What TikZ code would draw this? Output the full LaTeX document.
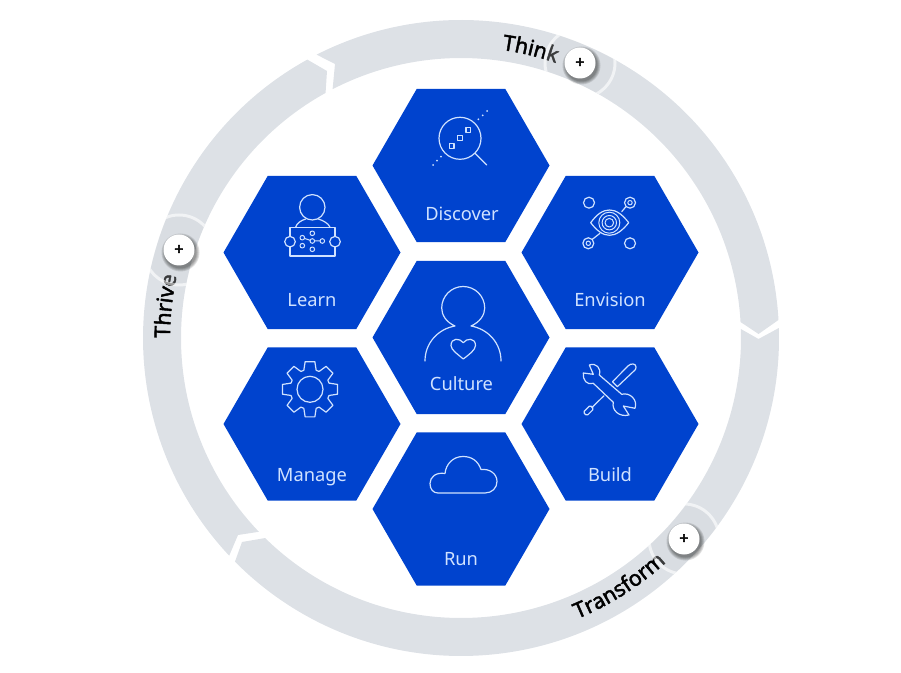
\documentclass[tikz,border=0pt]{standalone}
\usepackage{fontspec}
\setmainfont{Noto Sans}
\newfontfamily\medfont{Noto Sans}[FakeBold=2]
\newfontfamily\plusfont{Noto Sans}[FakeBold=3]
\usetikzlibrary{shapes.geometric,decorations.text}
\definecolor{ringgray}{HTML}{DDE1E6}
\definecolor{pulsegray}{HTML}{D2D6DB}
\definecolor{hexblue}{HTML}{0043CE}
\definecolor{pale}{HTML}{D0E2FF}
\newcommand{\clab}{\fontsize{21.5}{24}\selectfont\medfont\color{black}}
\tikzset{
  ringblock/.style={fill=ringgray,draw=none},
  hexcell/.style={regular polygon,regular polygon sides=6,minimum size=177pt,inner sep=0pt,outer sep=0pt,fill=hexblue,draw=none},
  hexlabel/.style={text=pale,font=\fontsize{18.3}{20}\selectfont,inner sep=0pt,anchor=base},
  icon/.style={draw=pale,line width=1.2pt,line join=round,line cap=round},
  dotmark/.style={fill=pale,draw=none},
  btn/.style={circle,fill=white,draw=none,minimum size=31pt,inner sep=0pt,font=\fontsize{16}{16}\selectfont\plusfont,text=black},
  curvetext/.style={decorate,decoration={text along path,text align={left},#1}},
  pulseline/.style={draw=white,line width=3pt,opacity=.6},
  pulsefill/.style={fill=pulsegray,opacity=.28}
}
\begin{document}
\begin{tikzpicture}[x=1pt,y=1pt]
\useasboundingbox (0,0) rectangle (901,672);
\begin{scope}[shift={(0,672)},yscale=-1]
  % ring
  \begin{scope}[shift={(461,338)}]
    \fill[ringblock] (-117:318pt) arc (-117:-3.25:318pt) -- (297.5,-4) -- (-3.27:280pt) arc (-3.27:-117.3:280pt) -- (-126,-274) -- cycle;
    \fill[ringblock] (-1.8:318pt) arc (-1.8:135.3:318pt) -- (-219,204) -- (134.4:280pt) arc (134.4:-1.84:280pt) -- (297.5,1) -- cycle;
    \fill[ringblock] (136.8:318pt) arc (136.8:241.1:318pt) -- (-134,-267) -- (241.07:280pt) arc (241.07:136.2:280pt) -- (-223,197) -- cycle;
  \end{scope}
  % hexagons
  \node[hexcell] (discover) at (461,165.5) {};
  \node[hexcell] (learn) at (312,252.5) {};
  \node[hexcell] (envision) at (610,252.5) {};
  \node[hexcell] (culture) at (461,337.5) {};
  \node[hexcell] (manage) at (312,424) {};
  \node[hexcell] (build) at (610,424) {};
  \node[hexcell] (run) at (461,509) {};
  % labels
  \node[hexlabel] (tdiscover) at (462,220.3) {Discover};
  \node[hexlabel] (tlearn) at (312,306.3) {Learn};
  \node[hexlabel] (tenvision) at (610,306.3) {Envision};
  \node[hexlabel] (tculture) at (461.5,390.3) {Culture};
  \node[hexlabel] (tmanage) at (312,482) {Manage};
  \node[hexlabel] (tbuild) at (610,481.5) {Build};
  \node[hexlabel] (trun) at (461,565) {Run};
  % Discover icon
  \draw[icon] (460,138.3) circle (21pt);
  \draw[icon] (475,153.3) -- (486.7,165);
  \foreach \px/\py in {451.7/146,460/138,468.3/130}
    \draw[icon] (\px-2.3,\py-2.3) rectangle (\px+2.3,\py+2.3);
  \foreach \px/\py in {478.3/119.3,482.7/115.3,487/111,441/156.7,437/160.7,433/165}
    \fill[dotmark] (\px,\py) circle (1pt);
  % Learn icon
  \draw[icon] (312.3,207.3) circle (12.7pt);
  \draw[icon] (295.7,227) .. controls (297,223) and (301,220.5) .. (305.7,219);
  \draw[icon] (318.3,219) .. controls (323,220.5) and (328,223) .. (330,227);
  \draw[icon] (290,227.3) rectangle (335,256);
  \draw[icon,fill=hexblue] (290,241.7) circle (5.3pt);
  \draw[icon,fill=hexblue] (335,241.7) circle (5.3pt);
  \draw[icon,line width=1pt] (302.3,237.7) -- (312.3,241) -- (322.3,241);
  \foreach \px/\py in {302.3/237.7,302.3/245.7,312.3/233.3,312.3/249.3,322.3/241,312.3/241}
    \draw[icon,line width=1pt,fill=hexblue] (\px,\py) circle (2.3pt);
  % Envision icon
  \draw[icon] (589,202.7) circle (5.5pt);
  \draw[icon] (630,243.3) circle (5.5pt);
  \draw[icon] (630,202.7) circle (5.5pt);
  \draw[icon,line width=1pt] (630,202.7) circle (2.2pt);
  \draw[icon] (588.3,243.3) circle (5.5pt);
  \draw[icon,line width=1pt] (588.3,243.3) circle (2.2pt);
  \draw[icon] (590.7,222.7) .. controls (597,214) and (603,210) .. (609.5,210) .. controls (616,210) and (622,214) .. (628.7,222.7) .. controls (622,231) and (616,235.3) .. (609.5,235.3) .. controls (603,235.3) and (597,231) .. (590.7,222.7) -- cycle;
  \draw[icon,line width=1pt] (609.3,222.7) circle (10.5pt);
  \draw[icon,line width=1pt] (609.3,222.7) circle (7.2pt);
  \draw[icon,line width=1pt] (609.3,222.7) circle (4.3pt);
  \draw[icon] (621.7,211.7) -- (625.9,206.7);
  \draw[icon] (592.5,239.2) -- (600,233.3);
  % Culture icon
  \draw[icon] (425,361) .. controls (425,343) and (438,329) .. (455,326)
    .. controls (446,322) and (441.7,315) .. (441.7,308)
    arc (180:360:21.5pt)
    .. controls (484.7,315) and (480,322) .. (471,326)
    .. controls (488,329) and (501,343) .. (501,361);
  \draw[icon] (463.3,342.7) .. controls (460,338) and (451,337.5) .. (451,345.5) .. controls (451,350) and (458,354.5) .. (463.3,359) .. controls (469,354.5) and (475.5,350) .. (475.5,345.5) .. controls (475.5,337.5) and (466.5,338) .. (463.3,342.7) -- cycle;
  % Manage icon
  \begin{scope}[shift={(310,389.3)}]
    \draw[icon] (-18:20pt) \foreach \a in {0,45,...,315} { -- (\a-18:20pt) -- (\a-10:28pt) -- (\a+10:28pt) -- (\a+18:20pt) } -- cycle;
    \draw[icon] (0,0) circle (13pt);
  \end{scope}
  % Build icon
  \draw[icon] (589.3,365) -- (593.3,374.3) -- (583.3,373) .. controls (582.5,380) and (587,385.5) .. (593.3,383.3) -- (613.3,402.3)
     .. controls (611.5,410) and (619,417.5) .. (629,415) -- (623.3,406) -- (635,408.3)
     .. controls (638,400) and (630,392) .. (621.7,394.3) -- (599.3,375)
     .. controls (601.5,368) and (596,362.5) .. (589.3,365) -- cycle;
  \draw[icon] (612.5,381.7) -- (628.3,365.7) .. controls (631,363) and (636,363.5) .. (636,367) .. controls (636,368.5) and (635.5,369.5) .. (635,370) -- (617.3,386.7) -- cycle;
  \draw[icon] (604,395.7) -- (591.7,407.7);
  \draw[icon,rounded corners=1.5pt] (590.2,405.2) -- (593.8,408.8) -- (586.8,415.8) -- (583.2,412.2) -- cycle;
  % Run icon
  \draw[icon] (438,493) -- (485,493) .. controls (492,493) and (497,488) .. (497,481.5) .. controls (497,474) and (490,468.5) .. (481,469.5) .. controls (478,461) and (472,456.5) .. (463,456.5) .. controls (453,456.5) and (446,464) .. (445,473.5) .. controls (436,472) and (430,477) .. (430,483.5) .. controls (430,489) and (433,493) .. (438,493) -- cycle;
\end{scope}
% curved labels
\coordinate (ringcentre) at (461,334);
\path[curvetext={text={|\clab|Think}}] (ringcentre) ++(81.9:291pt) arc (81.9:60:291pt);
\path[curvetext={text={|\clab|Transform}}] (ringcentre) ++(-67.5:304pt) arc (-67.5:-30:304pt);
\path[curvetext={text={|\clab|Thrive}}] (ringcentre) ++(180:291pt) arc (180:145:291pt);
% pulses and buttons
\begin{scope}[shift={(0,672)},yscale=-1]
  \begin{scope}[even odd rule]
    \clip (461,338) circle (318pt) (461,338) circle (280pt);
    \foreach \px/\py in {580/63,684/539,179/250} {
      \fill[pulsefill] (\px,\py) circle (34pt);
      \draw[pulseline] (\px,\py) circle (35pt);
    }
  \end{scope}
  \foreach \px/\py in {580/63,684/539,179/250}
    \foreach \r in {19,18,17,16}
      \fill[black,opacity=.12] (\px+1.5,\py+2.5) circle (\r pt);
  \node[btn] (btnthink) at (580,63) {+};
  \node[btn] (btntransform) at (684,539) {+};
  \node[btn] (btnthrive) at (179,250) {+};
\end{scope}
\end{tikzpicture}
\end{document}
